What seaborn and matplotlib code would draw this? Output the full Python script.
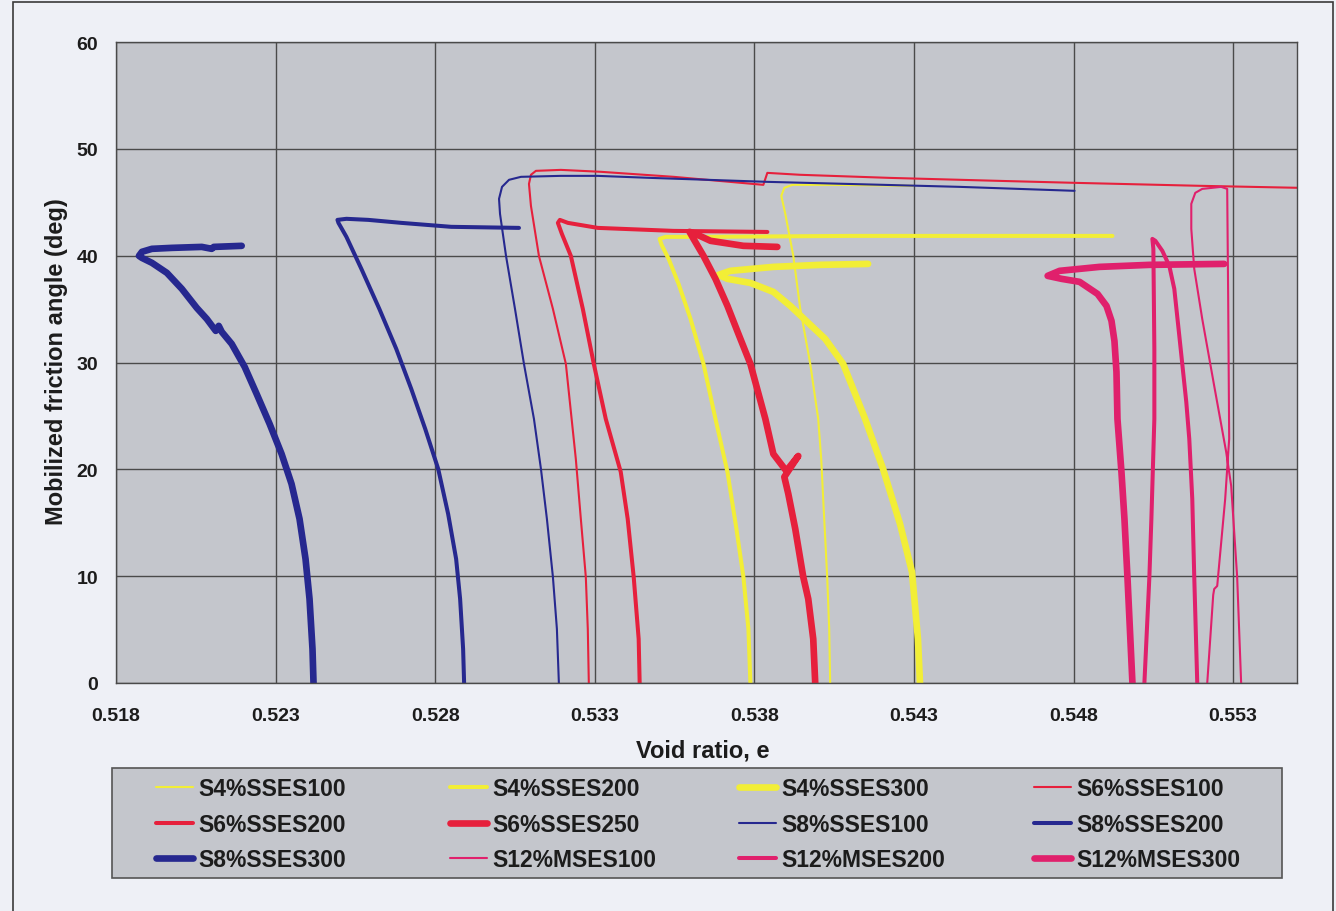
import matplotlib
matplotlib.use("Agg")
import matplotlib.pyplot as plt
import seaborn as sns
from matplotlib.patches import Rectangle

sns.set_theme(style="white")
plt.rcParams['font.family'] = ['Liberation Sans', 'DejaVu Sans']
plt.rcParams['font.weight'] = 'bold'

# ---- shear test data: void ratio e vs mobilized friction angle (deg) ----
s4_100_e = [0.540375, 0.540344, 0.540281, 0.540156, 0.540094, 0.54, 0.53975, 0.539438,
            0.539219, 0.538969, 0.538844, 0.538938, 0.539188, 0.540375, 0.542969]
s4_100_phi = [0, 5.06, 9.93, 17.23, 20.97, 24.72, 29.87, 35.02, 39.98, 43.91, 45.60,
              46.35, 46.63, 46.63, 46.54]

s4_200_e = [0.537875, 0.537813, 0.537656, 0.537438, 0.537156, 0.536781, 0.536406, 0.536,
            0.535625, 0.535313, 0.535094, 0.535031, 0.535219, 0.536313, 0.541, 0.545688, 0.549219]
s4_200_phi = [0, 5.06, 9.93, 14.42, 19.76, 24.72, 29.87, 34.08, 37.36, 39.70, 41.01, 41.57,
              41.76, 41.76, 41.85, 41.85, 41.85]

s4_300_e = [0.543188, 0.543125, 0.542938, 0.542563, 0.542031, 0.541469, 0.540781, 0.540219,
            0.539656, 0.539125, 0.538594, 0.537875, 0.537156, 0.536875, 0.53725, 0.538594,
            0.540063, 0.541563]
s4_300_phi = [0, 4.12, 10.39, 14.89, 20.04, 24.72, 29.87, 32.21, 33.80, 35.30, 36.61, 37.45,
              37.83, 38.20, 38.58, 38.95, 39.14, 39.23]

s6_100_e = [0.532813, 0.532781, 0.532719, 0.532563, 0.532406, 0.532094, 0.531688, 0.53125,
            0.531, 0.530938, 0.531, 0.531156, 0.531938, 0.533188, 0.535469, 0.538281, 0.538406,
            0.539438, 0.54225, 0.545688, 0.548, 0.551938, 0.555063]
s6_100_phi = [0, 5.06, 9.93, 15.36, 20.97, 29.87, 35.02, 39.98, 44.66, 46.72, 47.57, 47.94,
              48.03, 47.85, 47.38, 46.63, 47.75, 47.57, 47.28, 47.0, 46.82, 46.54, 46.35]

s6_200_e = [0.534406, 0.534375, 0.534219, 0.534031, 0.533813, 0.533344, 0.532969, 0.532625,
            0.53225, 0.531969, 0.531844, 0.531906, 0.532156, 0.533094, 0.535469, 0.538406]
s6_200_phi = [0, 4.12, 9.93, 15.36, 19.76, 24.72, 29.87, 35.02, 39.98, 42.04, 43.07, 43.35,
              43.07, 42.60, 42.32, 42.22]

s6_250_e = [0.539906, 0.539844, 0.539688, 0.539531, 0.539281, 0.539063, 0.538938, 0.539375,
            0.539, 0.538594, 0.538344, 0.537875, 0.5375, 0.537156, 0.536781, 0.536406,
            0.536094, 0.535969, 0.536156, 0.536625, 0.537656, 0.538719]
s6_250_phi = [0, 4.12, 7.87, 9.93, 14.42, 17.70, 19.29, 21.25, 19.85, 21.44, 24.72, 29.87,
              32.68, 35.30, 37.83, 39.98, 41.57, 42.23, 42.04, 41.39, 40.92, 40.82]

s8_100_e = [0.531875, 0.531813, 0.531688, 0.5315, 0.531313, 0.531094, 0.530781, 0.5305,
            0.530219, 0.530031, 0.53, 0.530094, 0.530313, 0.530688, 0.531938, 0.533094,
            0.53475, 0.536531, 0.538406, 0.542031, 0.544438, 0.548031]
s8_100_phi = [0, 5.06, 9.93, 15.36, 20.04, 24.72, 29.87, 35.02, 39.98, 43.91, 45.32, 46.44,
              47.10, 47.38, 47.47, 47.47, 47.28, 47.10, 46.91, 46.63, 46.44, 46.07]

s8_200_e = [0.528906, 0.528875, 0.528781, 0.528656, 0.528406, 0.528094, 0.527688, 0.52725,
            0.526781, 0.52625, 0.525688, 0.525219, 0.524969, 0.524938, 0.525219, 0.525906,
            0.526938, 0.5285, 0.530625]
s8_200_phi = [0, 3.18, 7.87, 11.61, 15.82, 20.04, 23.78, 27.53, 31.27, 35.02, 38.76, 41.76,
              43.07, 43.35, 43.45, 43.35, 43.07, 42.70, 42.60]

s8_300_e = [0.524188, 0.524156, 0.524063, 0.523938, 0.52375, 0.5235, 0.523188, 0.522813,
            0.522406, 0.522031, 0.521625, 0.521313, 0.521219, 0.521125, 0.520844, 0.520531,
            0.520063, 0.519594, 0.519125, 0.518813, 0.518719, 0.518813, 0.519125, 0.51975,
            0.520688, 0.521, 0.521063, 0.521938]
s8_300_phi = [0, 3.18, 7.87, 11.61, 15.36, 18.63, 21.44, 24.25, 27.06, 29.59, 31.74, 32.87,
              33.43, 32.96, 34.08, 35.11, 36.89, 38.39, 39.33, 39.79, 39.98, 40.36, 40.64,
              40.73, 40.82, 40.64, 40.82, 40.92]

s12_100_e = [0.55325, 0.553125, 0.552938, 0.552781, 0.552406, 0.552031, 0.551781, 0.551688,
             0.551688, 0.551813, 0.552031, 0.552625, 0.552813, 0.552844, 0.552875, 0.55275,
             0.5525, 0.552406, 0.552375, 0.552188]
s12_100_phi = [0, 9.93, 18.45, 21.63, 27.81, 34.08, 38.76, 42.51, 44.85, 45.88, 46.25, 46.44,
               46.25, 35.96, 22.85, 17.23, 9.08, 8.80, 8.24, 0]

s12_200_e = [0.551875, 0.551781, 0.551719, 0.551625, 0.551531, 0.551313, 0.551156, 0.551,
             0.550781, 0.550563, 0.550469, 0.5505, 0.550531, 0.550531, 0.550438, 0.550375, 0.550219]
s12_200_phi = [0, 9.93, 17.23, 22.85, 26.31, 32.49, 36.89, 39.04, 40.45, 41.39, 41.57, 40.64,
               31.27, 24.72, 15.36, 9.93, 0]

s12_300_e = [0.549844, 0.54975, 0.549688, 0.549594, 0.5495, 0.549375, 0.549344, 0.549281,
             0.549188, 0.549031, 0.54875, 0.548188, 0.547625, 0.547188, 0.547563, 0.548813,
             0.550375, 0.552719]
s12_300_phi = [0, 5.99, 9.93, 15.36, 19.76, 24.72, 29.12, 32.0, 33.9, 35.3, 36.42, 37.55,
               37.83, 38.11, 38.58, 38.95, 39.14, 39.23]

series_names = ["S4%SSES100", "S4%SSES200", "S4%SSES300",
                "S6%SSES100", "S6%SSES200", "S6%SSES250",
                "S8%SSES100", "S8%SSES200", "S8%SSES300",
                "S12%MSES100", "S12%MSES200", "S12%MSES300"]
series_e = [s4_100_e, s4_200_e, s4_300_e, s6_100_e, s6_200_e, s6_250_e,
            s8_100_e, s8_200_e, s8_300_e, s12_100_e, s12_200_e, s12_300_e]
series_phi = [s4_100_phi, s4_200_phi, s4_300_phi, s6_100_phi, s6_200_phi, s6_250_phi,
              s8_100_phi, s8_200_phi, s8_300_phi, s12_100_phi, s12_200_phi, s12_300_phi]

x_ticks = [0.518, 0.523, 0.528, 0.533, 0.538, 0.543, 0.548, 0.553]
y_ticks = [0, 10, 20, 30, 40, 50, 60]

# ---- styling ----
YELLOW, RED, BLUE, PINK = "#f2ee36", "#e6203c", "#26288f", "#e0206c"
series_colors = [YELLOW] * 3 + [RED] * 3 + [BLUE] * 3 + [PINK] * 3
THIN, MED, THICK = 1.5, 2.9, 4.8
series_widths = [THIN, MED, THICK] * 4

W, H = 1336, 912
FIG_BG = "#eef0f6"
PLOT_BG = "#c4c6cc"
GRID = "#4a4a4a"
TXT = "#1c1c1c"

fig = plt.figure(figsize=(W / 100, H / 100), dpi=100, facecolor=FIG_BG)

# outer chart frame
fig.patches.append(Rectangle((13 / W, -0.05), (1333 - 13) / W, 1.05 - 3 / H,
                             transform=fig.transFigure, fill=False,
                             edgecolor="#3a3a3a", linewidth=1.2, zorder=0))

left, right, top, bottom = 116, 1297, 43, 684
ax = fig.add_axes([left / W, 1 - bottom / H, (right - left) / W, (bottom - top) / H])
ax.set_facecolor(PLOT_BG)

for name, e, phi, c, lw in zip(series_names, series_e, series_phi,
                               series_colors, series_widths):
    sns.lineplot(x=e, y=phi, sort=False, estimator=None, color=c, linewidth=lw,
                 label=name, ax=ax, solid_joinstyle="round", solid_capstyle="round")

ax.set_xlim(0.518, 0.555)
ax.set_ylim(0, 60)
ax.set_xticks(x_ticks)
ax.set_yticks(y_ticks)
ax.set_xticklabels([f"{v:.3f}" for v in x_ticks])
ax.grid(True, color=GRID, linewidth=1.0)
ax.set_axisbelow(True)
for sp in ax.spines.values():
    sp.set_visible(True)
    sp.set_color(GRID)
    sp.set_linewidth(1.0)
ax.tick_params(axis="both", which="both", direction="out", colors=GRID,
               labelcolor=TXT, labelsize=14, length=5, width=1.0)
ax.tick_params(axis="x", pad=12)
ax.tick_params(axis="y", pad=8)
for lab in ax.get_xticklabels() + ax.get_yticklabels():
    lab.set_fontweight("bold")

fig.text(57 / W, 1 - 362 / H, "Mobilized friction angle (deg)", rotation=90,
         ha="center", va="center", fontsize=17, fontweight="bold", color=TXT)
fig.text(703 / W, 1 - 751 / H, "Void ratio, e", ha="center", va="center",
         fontsize=17, fontweight="bold", color=TXT)

# ---- legend: boxed, four columns read row-wise ----
handles, labels = ax.get_legend_handles_labels()
ax.get_legend().remove()

fig.patches.append(Rectangle((112 / W, 1 - 879 / H), (1282 - 112) / W, (879 - 769) / H,
                             transform=fig.transFigure, facecolor=PLOT_BG,
                             edgecolor="#555555", linewidth=1.2, zorder=1))

col_x = [156, 450, 739, 1034]
for ci, cx in enumerate(col_x):
    idx = [ci, ci + 4, ci + 8]
    leg = fig.legend([handles[i] for i in idx], [labels[i] for i in idx],
                     loc="upper left", bbox_to_anchor=(cx / W, 1 - 778 / H),
                     frameon=False, borderpad=0, borderaxespad=0,
                     handlelength=1.6, handletextpad=0.25, labelspacing=0.55,
                     prop={"size": 16.5, "weight": "bold"})
    for t in leg.get_texts():
        t.set_color(TXT)
    leg.set_zorder(2)

fig.savefig("out.png", dpi=100, facecolor=FIG_BG)
